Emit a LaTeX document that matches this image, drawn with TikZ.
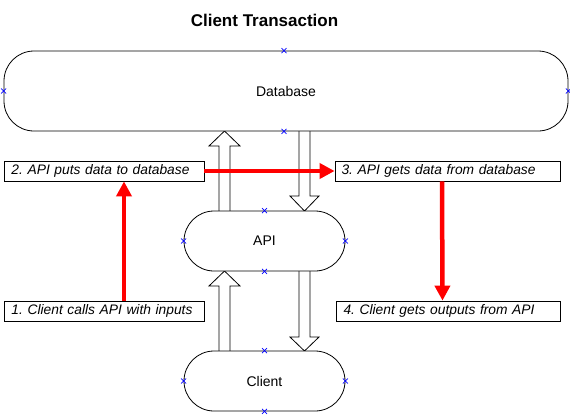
\documentclass[tikz,border=0pt]{standalone}
\usepackage{fontspec}
\setmainfont{Liberation Sans}
\usetikzlibrary{arrows.meta,calc}
\frenchspacing
\tikzset{
  shapebox/.style={draw, line width=0.8pt, rounded corners=30pt, inner sep=0pt, font=\fontsize{14}{16}\selectfont},
  stepbox/.style={draw, line width=0.8pt, inner sep=0pt, minimum height=20pt, align=left, font=\fontsize{13.8}{16}\selectfont\itshape},
  redarrow/.style={draw=red, line width=4.5pt, -{Triangle[length=15pt,width=15pt]}},
  blockarrow/.style={draw, line width=0.8pt, fill=white, line join=miter},
  cmark/.style={draw=blue, line width=0.6pt}
}
\newcommand{\cm}[1]{\draw[cmark] ($(#1)+(-2.5,-2.5)$) -- ($(#1)+(2.5,2.5)$) ($(#1)+(-2.5,2.5)$) -- ($(#1)+(2.5,-2.5)$);}
\begin{document}
\begin{tikzpicture}[x=1pt,y=-1pt]
\useasboundingbox (0,0) rectangle (570,416);
\node[font=\fontsize{17}{20}\selectfont\bfseries] (title) at (264.5,20) {Client Transaction};
% block arrows
\draw[blockarrow] (219,211) -- (219,146) -- (209,146) -- (224.5,131) -- (240,146) -- (230,146) -- (230,211);
\draw[blockarrow] (299,131) -- (299,196) -- (290,196) -- (304.5,211) -- (319,196) -- (310,196) -- (310,131);
\draw[blockarrow] (219,351) -- (219,286) -- (209,286) -- (224.5,271) -- (240,286) -- (230,286) -- (230,351);
\draw[blockarrow] (299,271) -- (299,337) -- (290,337) -- (304.5,351) -- (319,337) -- (310,337) -- (310,271);
% shapes
\node[shapebox, fill=white, minimum width=564pt, minimum height=80pt] (db) at (286,91) {Database};
\node[shapebox, fill=white, minimum width=161pt, minimum height=60pt] (api) at (264.5,241) {API};
\node[shapebox, fill=white, minimum width=161pt, minimum height=60pt] (client) at (264.5,381) {Client};
% step boxes
\node[stepbox, text width=195pt, minimum width=200pt] (b2) at (104,171) {\hspace*{5pt}2. API puts data to database};
\node[stepbox, text width=220pt, minimum width=225pt] (b3) at (447.5,171) {\hspace*{4pt}3. API gets data from database};
\node[stepbox, text width=195pt, minimum width=200pt] (b1) at (104,311) {\hspace*{5pt}1. Client calls API with inputs};
\node[stepbox, text width=219pt, minimum width=224pt] (b4) at (448,311) {\hspace*{5pt}4. Client gets outputs from API};
% red arrows
\draw[redarrow] ([xshift=20pt]b1.north) -- ([xshift=20pt]b2.south);
\draw[redarrow] (b2.east) -- (b3.west);
\draw[redarrow] ([xshift=-5.5pt]b3.south) -- ([xshift=-5.5pt]b4.north);
% connection markers
\cm{db.north -| 284,0} \cm{db.south -| 284,0} \cm{db.west} \cm{db.east}
\cm{api.north} \cm{api.south} \cm{api.west} \cm{api.east}
\cm{client.north} \cm{client.south} \cm{client.west} \cm{client.east}
\end{tikzpicture}
\end{document}
